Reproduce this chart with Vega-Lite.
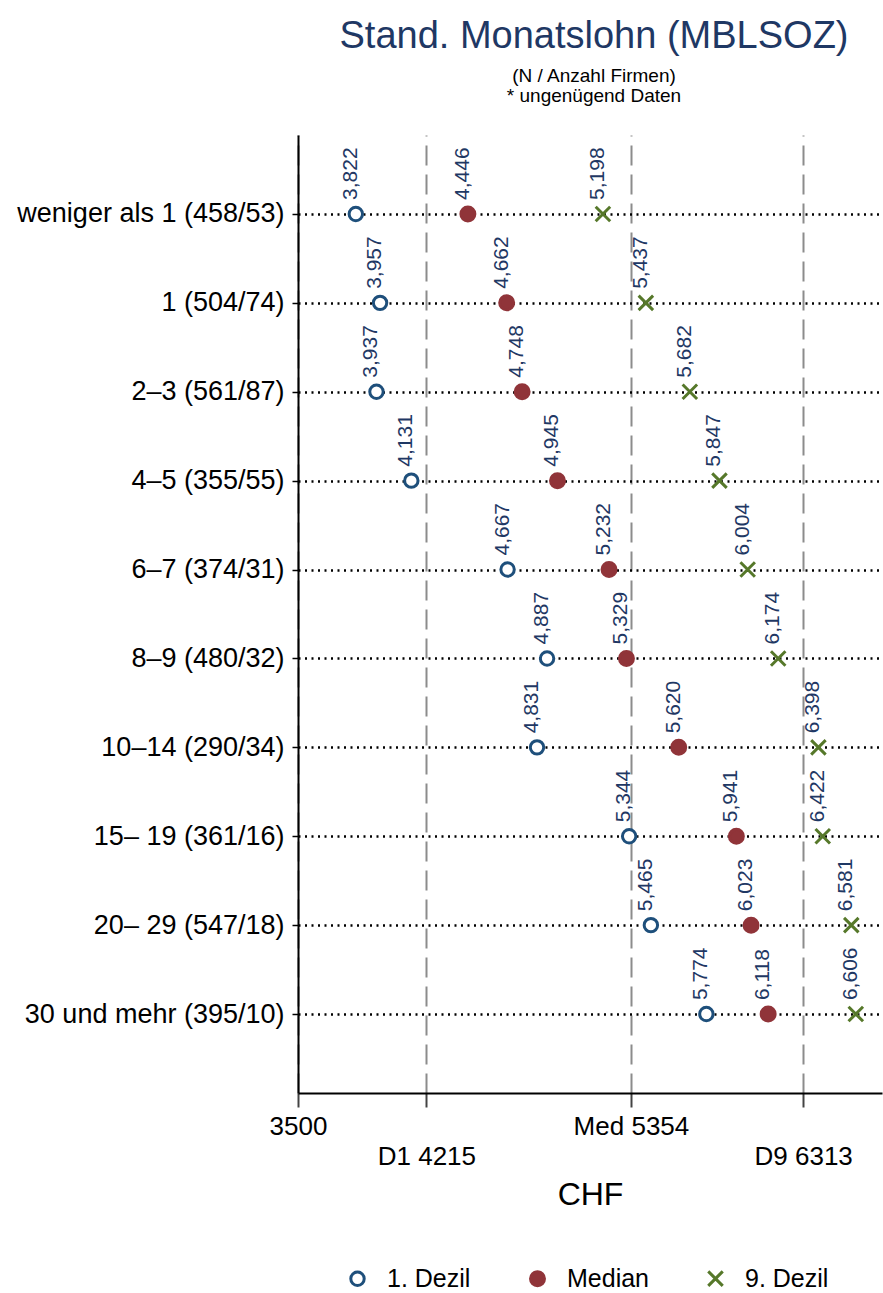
{
  "$schema": "https://vega.github.io/schema/vega-lite/v6.json",
  "width": 584,
  "height": 958,
  "autosize": {"type": "none"},
  "padding": {"left": 298, "top": 135, "right": 1, "bottom": 200},
  "background": "white",
  "config": {
    "font": "Liberation Sans",
    "view": {"stroke": null},
    "legend": {
      "orient": "none",
      "legendX": 47,
      "legendY": 1131,
      "direction": "horizontal",
      "labelFontSize": 25,
      "labelColor": "black",
      "labelOffset": 17,
      "columnPadding": 53,
      "symbolStrokeWidth": 3,
      "labelLimit": 300
    }
  },
  "title": {
    "text": "Stand. Monatslohn (MBLSOZ)",
    "subtitle": ["(N / Anzahl Firmen)", "* ungenügend Daten"],
    "anchor": "middle",
    "dx": 4,
    "fontSize": 38,
    "fontWeight": "normal",
    "color": "#1f3864",
    "subtitleFontSize": 19,
    "subtitleColor": "black",
    "subtitleLineHeight": 20,
    "subtitlePadding": 11,
    "offset": 29
  },
  "data": {
    "values": [
      {"g": "weniger als 1 (458/53)", "s": "1. Dezil", "v": 3822},
      {"g": "weniger als 1 (458/53)", "s": "Median", "v": 4446},
      {"g": "weniger als 1 (458/53)", "s": "9. Dezil", "v": 5198},
      {"g": "1 (504/74)", "s": "1. Dezil", "v": 3957},
      {"g": "1 (504/74)", "s": "Median", "v": 4662},
      {"g": "1 (504/74)", "s": "9. Dezil", "v": 5437},
      {"g": "2–3 (561/87)", "s": "1. Dezil", "v": 3937},
      {"g": "2–3 (561/87)", "s": "Median", "v": 4748},
      {"g": "2–3 (561/87)", "s": "9. Dezil", "v": 5682},
      {"g": "4–5 (355/55)", "s": "1. Dezil", "v": 4131},
      {"g": "4–5 (355/55)", "s": "Median", "v": 4945},
      {"g": "4–5 (355/55)", "s": "9. Dezil", "v": 5847},
      {"g": "6–7 (374/31)", "s": "1. Dezil", "v": 4667},
      {"g": "6–7 (374/31)", "s": "Median", "v": 5232},
      {"g": "6–7 (374/31)", "s": "9. Dezil", "v": 6004},
      {"g": "8–9 (480/32)", "s": "1. Dezil", "v": 4887},
      {"g": "8–9 (480/32)", "s": "Median", "v": 5329},
      {"g": "8–9 (480/32)", "s": "9. Dezil", "v": 6174},
      {"g": "10–14 (290/34)", "s": "1. Dezil", "v": 4831},
      {"g": "10–14 (290/34)", "s": "Median", "v": 5620},
      {"g": "10–14 (290/34)", "s": "9. Dezil", "v": 6398},
      {"g": "15– 19 (361/16)", "s": "1. Dezil", "v": 5344},
      {"g": "15– 19 (361/16)", "s": "Median", "v": 5941},
      {"g": "15– 19 (361/16)", "s": "9. Dezil", "v": 6422},
      {"g": "20– 29 (547/18)", "s": "1. Dezil", "v": 5465},
      {"g": "20– 29 (547/18)", "s": "Median", "v": 6023},
      {"g": "20– 29 (547/18)", "s": "9. Dezil", "v": 6581},
      {"g": "30 und mehr (395/10)", "s": "1. Dezil", "v": 5774},
      {"g": "30 und mehr (395/10)", "s": "Median", "v": 6118},
      {"g": "30 und mehr (395/10)", "s": "9. Dezil", "v": 6606}
    ]
  },
  "encoding": {
    "y": {
      "field": "g",
      "type": "nominal",
      "sort": ["weniger als 1 (458/53)", "1 (504/74)", "2–3 (561/87)", "4–5 (355/55)", "6–7 (374/31)", "8–9 (480/32)", "10–14 (290/34)", "15– 19 (361/16)", "20– 29 (547/18)", "30 und mehr (395/10)"],
      "scale": {"type": "point", "padding": 0.888},
      "axis": {
        "title": null,
        "grid": true,
        "gridColor": "black",
        "gridDash": [2, 4.5],
        "gridWidth": 2.5,
        "domainColor": "black",
        "domainWidth": 2,
        "tickColor": "black",
        "tickSize": 6,
        "tickWidth": 1.5,
        "labelFontSize": 27,
        "labelColor": "black",
        "labelPadding": 8,
        "labelLimit": 400
      }
    },
    "x": {
      "field": "v",
      "type": "quantitative",
      "scale": {"domain": [3500, 6752], "nice": false, "zero": false},
      "axis": {
        "values": [3500, 4215, 5354, 6313],
        "grid": true,
        "gridColor": "#8c8c8c",
        "gridDash": [20, 9],
        "gridWidth": 2,
        "domainColor": "black",
        "domainWidth": 2,
        "tickColor": "#444444",
        "tickSize": 14,
        "tickWidth": 2,
        "labelFontSize": 26,
        "labelColor": "black",
        "labelPadding": 6,
        "labelBaseline": "top",
        "labelLineHeight": 30,
        "labelOverlap": false,
        "labelFlush": false,
        "labelExpr": "datum.value == 4215 ? ['', 'D1 4215'] : datum.value == 6313 ? ['', 'D9 6313'] : datum.value == 5354 ? 'Med 5354' : '3500'",
        "title": "CHF",
        "titleFontSize": 32,
        "titleFontWeight": "normal",
        "titleColor": "black",
        "titlePadding": 10
      }
    }
  },
  "layer": [
    {
      "mark": {"type": "point", "strokeWidth": 3, "opacity": 1},
      "encoding": {
        "shape": {"field": "s", "type": "nominal", "scale": {"domain": ["1. Dezil", "Median", "9. Dezil"], "range": ["circle", "circle", "M-1,-1L1,1M-1,1L1,-1"]}, "legend": {"title": null}},
        "fill": {"field": "s", "type": "nominal", "scale": {"domain": ["1. Dezil", "Median", "9. Dezil"], "range": ["white", "#903439", "transparent"]}, "legend": {"title": null}},
        "stroke": {"field": "s", "type": "nominal", "scale": {"domain": ["1. Dezil", "Median", "9. Dezil"], "range": ["#1e4f7b", "#903439", "#56782a"]}, "legend": {"title": null}},
        "size": {"field": "s", "type": "ordinal", "scale": {"domain": ["1. Dezil", "Median", "9. Dezil"], "range": [180, 210, 160]}, "legend": {"title": null}}
      }
    },
    {
      "mark": {"type": "text", "angle": 270, "align": "left", "baseline": "alphabetic", "dx": 14, "dy": 1, "fontSize": 21, "color": "#1f3864"},
      "encoding": {
        "text": {"field": "v", "type": "quantitative", "format": ","}
      }
    }
  ]
}
